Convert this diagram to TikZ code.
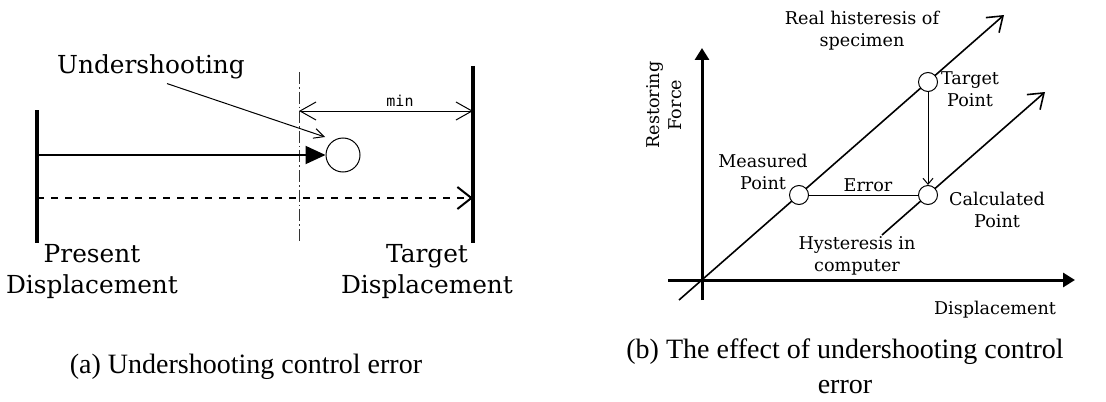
\documentclass[tikz,border=0pt]{standalone}
\usepackage{fontspec}
\setmainfont{DejaVu Serif}
\setmonofont{DejaVu Sans Mono}
\newfontfamily\capfont{Liberation Serif}
\usepackage{tikz}
\usetikzlibrary{arrows.meta,positioning,calc}
\tikzset{
  bar/.style={line width=2pt},
  stroke/.style={-{Triangle[length=10pt,width=9pt]}, line width=1pt},
  goal/.style={-{Straight Barb[length=7pt,width=11pt]}, line width=1pt,
               dash pattern=on 3.5pt off 3.5pt},
  limit/.style={line width=0.4pt, draw=black!80,
                dash pattern=on 6pt off 1.5pt on 0.8pt off 1.5pt},
  dimline/.style={{Straight Barb[length=8pt,width=9pt]}-{Straight Barb[length=8pt,width=9pt]},
                  line width=0.5pt},
  lead/.style={-{Straight Barb[length=5pt,width=5pt]}, line width=0.5pt},
  axis/.style={-{Triangle[length=6pt,width=7pt]}, line width=1.5pt},
  hyst/.style={-{Straight Barb[length=7pt,width=10pt]}, line width=0.8pt},
  drop/.style={-{Straight Barb[length=3pt,width=5pt]}, line width=0.5pt},
  pnt/.style={circle, draw, line width=0.5pt, fill=white, inner sep=0pt,
              minimum size=#1},
  lblL/.style={font=\fontsize{12.4}{15.5}\selectfont, align=center, inner sep=0pt},
  lblR/.style={font=\fontsize{8.8}{11}\selectfont, align=center, inner sep=0pt},
  caption/.style={font=\capfont\fontsize{14}{17.5}\selectfont, align=center, inner sep=0pt},
}

\begin{document}
\begin{tikzpicture}[x=0.5pt, y=-0.5pt]
\useasboundingbox (0,0) rectangle (1106,401);

% ---------------- (a) undershooting ---------------------------------------
\coordinate (preTop) at (37,110);  \coordinate (preBot) at (37,243);
\coordinate (tgtTop) at (473,66);  \coordinate (tgtBot) at (473,243);
\coordinate (limTop) at (299,72);  \coordinate (limBot) at (299,243);
\draw[bar] (preTop) -- (preBot);
\draw[bar] (tgtTop) -- (tgtBot);
\draw[limit] (limTop) -- (limBot);

\node[pnt=17pt] (reach) at (343,155) {};
\coordinate (preA) at (37,155);
\draw[stroke] (preA) -- (reach.west);

\coordinate (preB) at (37,198); \coordinate (tgtB) at (473,198);
\draw[goal] (preB) -- (tgtB);

\coordinate (minL) at (299,111); \coordinate (minR) at (473,111);
\draw[dimline] (minL) -- (minR);
\node[font=\ttfamily\fontsize{7.5}{9}\selectfont] (minlbl) at (400,101) {min};

\node[lblL] (under) at (151,67) {Undershooting};
\coordinate (underTip) at (325,137);
\draw[lead] ([xshift=8pt,yshift=-2pt]under.south) -- (underTip);

\node[lblL] (present) at (92,272) {Present\\Displacement};
\node[lblL] (target) at (427,272) {Target\\Displacement};

\node[caption] (capA) at (246,367) {(a) Undershooting control error};

% ---------------- (b) effect on the hysteresis ----------------------------
\coordinate (yBot) at (702,300); \coordinate (yTop) at (702,48);
\coordinate (xLft) at (668,280); \coordinate (xRgt) at (1075,280);
\draw[axis] (yBot) -- (yTop);
\draw[axis] (xLft) -- (xRgt);

\coordinate (realBot) at (679,300); \coordinate (realTip) at (1004,15);
\draw[hyst] (realBot) -- (realTip);
\coordinate (compBot) at (882,235); \coordinate (compTip) at (1045,92);
\draw[hyst] (compBot) -- (compTip);

\node[pnt=9.5pt] (meas) at (799,195) {};
\node[pnt=9.5pt] (tgt)  at (928,82) {};
\node[pnt=9.5pt] (calc) at (928,195) {};
\draw[line width=0.5pt] (meas) -- (calc);
\draw[drop] (tgt) -- (calc);

\node[lblR] (realLbl) at (862,31) {Real histeresis of\\specimen};
\node[lblR] (tgtLbl)  at (970,89) {Target\\Point};
\node[lblR] (measLbl) at (763,172) {Measured\\Point};
\node[lblR] (errLbl)  at (868,185) {Error};
\node[lblR] (calcLbl) at (997,210) {Calculated\\Point};
\node[lblR] (compLbl) at (857,256) {Hysteresis in\\computer};
\node[lblR] (xLbl)    at (995,310) {Displacement};
\node[lblR, rotate=90] (yLbl) at (664,105) {Restoring\\Force};

\node[caption] (capB) at (845,366) {(b) The effect of undershooting control\\error};
\end{tikzpicture}
\end{document}
